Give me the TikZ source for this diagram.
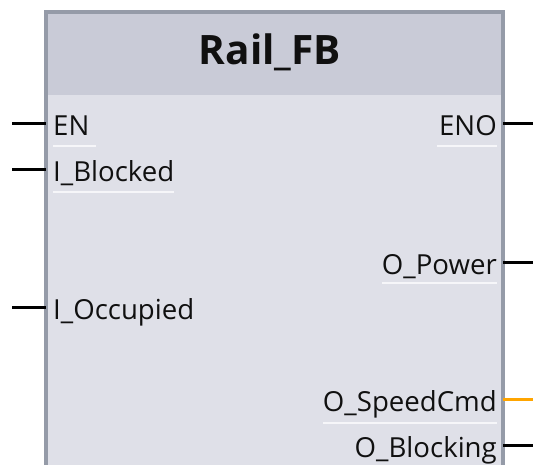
\documentclass[tikz,border=0pt]{standalone}
\usepackage{fontspec}
\setmainfont{Open Sans}
\definecolor{bodyfill}{HTML}{DFE0E8}
\definecolor{headfill}{HTML}{C9CBD7}
\definecolor{bordercol}{HTML}{959BA8}
\definecolor{txtcol}{HTML}{101010}
\definecolor{orangepin}{HTML}{FFA500}
\definecolor{ulinecol}{HTML}{F6F6F9}
\tikzset{
  lbl/.style={inner sep=0pt, text=txtcol, font=\fontsize{27.6}{30}\selectfont},
  titlelbl/.style={inner sep=0pt, text=txtcol, font=\fontsize{40.5}{44}\selectfont\bfseries},
  pinline/.style={line width=3pt, black},
  anapin/.style={line width=3pt, orangepin},
  uline/.style={line width=1.4pt, ulinecol},
  borderline/.style={line width=4pt, bordercol}
}
\begin{document}
\begin{tikzpicture}[x=1pt,y=-1pt]
\useasboundingbox (0,0) rectangle (533,464);
\clip (0,0) rectangle (533,464);
% block body and header
\node[fill=bodyfill, inner sep=0pt, minimum width=457.5pt, minimum height=470pt, anchor=north west] (fb) at (45.5,11.5) {};
\node[fill=headfill, inner sep=0pt, minimum width=457.5pt, minimum height=83.5pt, anchor=north west] (hdr) at (45.5,11.5) {};
\draw[borderline] (fb.south west) -- (fb.north west) -- (fb.north east) -- (fb.south east);
% title
\node[titlelbl, anchor=base] (title) at (270,64) {Rail\_FB};
% left labels
\node[lbl, anchor=base west] (en) at (53,135) {EN};
\node[lbl, anchor=base west] (iblocked) at (53,181) {I\_Blocked};
\node[lbl, anchor=base west] (ioccupied) at (53,319) {I\_Occupied};
% right labels
\node[lbl, anchor=base east] (eno) at (497,135) {ENO};
\node[lbl, anchor=base east] (opower) at (497,274) {O\_Power};
\node[lbl, anchor=base east] (ospeed) at (497,411) {O\_SpeedCmd};
\node[lbl, anchor=base east] (oblocking) at (497,457) {O\_Blocking};
% underlines
\draw[uline] ([yshift=-11pt]en.base west) -- ([xshift=6pt,yshift=-11pt]en.base east);
\draw[uline] ([yshift=-11pt]iblocked.base west) -- ([yshift=-11pt]iblocked.base east);
\draw[uline] ([xshift=-2pt,yshift=-11pt]eno.base west) -- ([yshift=-11pt]eno.base east);
\draw[uline] ([yshift=-9pt]opower.base west) -- ([yshift=-9pt]opower.base east);
\draw[uline] ([yshift=-12pt]ospeed.base west) -- ([yshift=-12pt]ospeed.base east);
% pin ends
\coordinate (enpin) at (12,123);
\coordinate (iblockedpin) at (12,169);
\coordinate (ioccupiedpin) at (12,307);
\coordinate (enopin) at (533,123);
\coordinate (opowerpin) at (533,262);
\coordinate (ospeedpin) at (533,399);
\coordinate (oblockingpin) at (533,445);
% pins
\draw[pinline] (enpin) -- (enpin -| fb.west);
\draw[pinline] (iblockedpin) -- (iblockedpin -| fb.west);
\draw[pinline] (ioccupiedpin) -- (ioccupiedpin -| fb.west);
\draw[pinline] (enopin) -- (enopin -| fb.east);
\draw[pinline] (opowerpin) -- (opowerpin -| fb.east);
\draw[anapin] (ospeedpin) -- (ospeedpin -| fb.east);
\draw[pinline] (oblockingpin) -- (oblockingpin -| fb.east);
\end{tikzpicture}
\end{document}
